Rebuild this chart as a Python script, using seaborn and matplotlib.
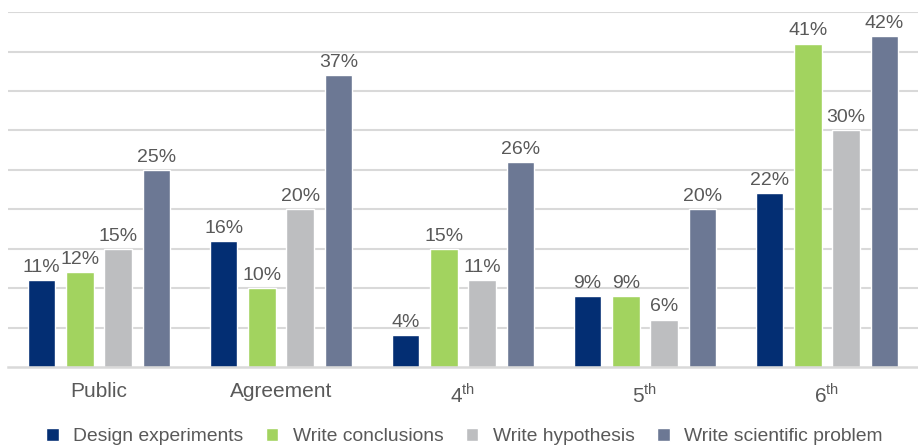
import matplotlib
matplotlib.use("Agg")
import matplotlib.pyplot as plt
import seaborn as sns
import pandas as pd

# Groups along the x axis
groups = ["Public", "Agreement", r"4$^{\mathrm{th}}$", r"5$^{\mathrm{th}}$", r"6$^{\mathrm{th}}$"]

# Percent of students per skill and group
design_experiments = [11, 16, 4, 9, 22]
write_conclusions = [12, 10, 15, 9, 41]
write_hypothesis = [15, 20, 11, 6, 30]
write_scientific_problem = [25, 37, 26, 20, 42]

series_names = ["Design experiments", "Write conclusions",
                "Write hypothesis", "Write scientific problem"]
series_values = [design_experiments, write_conclusions,
                 write_hypothesis, write_scientific_problem]
colors = ["#032E73", "#A2D35F", "#BDBEC0", "#6C7894"]

rows = []
for name, vals in zip(series_names, series_values):
    for g, v in zip(groups, vals):
        rows.append({"group": g, "skill": name, "value": v})
df = pd.DataFrame(rows)

sns.set_theme(style="white")
plt.rcParams["font.family"] = ["Liberation Sans", "DejaVu Sans"]
plt.rcParams["mathtext.fontset"] = "custom"
plt.rcParams["mathtext.rm"] = "Liberation Sans"

text_color = "#595959"
grid_color = "#D9D9D9"

fig = plt.figure(figsize=(9.18, 4.47), dpi=100)
ax = fig.add_axes([0.0087, 0.179, 0.9913, 0.794])

sns.barplot(data=df, x="group", y="value", hue="skill", order=groups,
            hue_order=series_names, palette=colors, width=0.84, gap=0.28,
            saturation=1, ax=ax, legend=True)

ax.set_ylim(0, 45)
ax.set_xlim(-0.5, 4.5)
ax.set_yticks(range(5, 50, 5))
ax.yaxis.grid(True, color=grid_color, linewidth=1.5)
ax.set_axisbelow(True)
ax.tick_params(axis="y", left=False, labelleft=False)
ax.tick_params(axis="x", bottom=False, labelsize=15, labelcolor=text_color, pad=5)
ax.set_xlabel("")
ax.set_ylabel("")
for side in ["left", "right", "top"]:
    ax.spines[side].set_visible(False)
ax.spines["bottom"].set_color(grid_color)
ax.spines["bottom"].set_linewidth(1.8)

for container in ax.containers:
    ax.bar_label(container, labels=[f"{v:.0f}%" for v in container.datavalues],
                 padding=3, fontsize=14, color=text_color)

handles, labels = ax.get_legend_handles_labels()
ax.get_legend().remove()
fig.legend(handles, labels, loc="center", bbox_to_anchor=(0.506, 0.024), ncol=4,
           frameon=False, fontsize=13.9, handlelength=0.65, handleheight=0.65,
           handletextpad=0.75, columnspacing=1.15, labelcolor=text_color)

fig.savefig("out.png", dpi=100)
